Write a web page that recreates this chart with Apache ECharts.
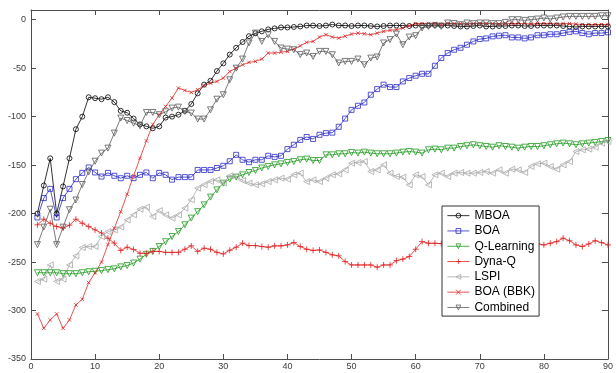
<!DOCTYPE html>
<html>
<head>
<meta charset="utf-8">
<script src="https://cdn.jsdelivr.net/npm/echarts@6/dist/echarts.min.js"></script>
<style>
  html, body { margin: 0; padding: 0; background: #ffffff; }
  #chart { width: 616px; height: 373px; }
</style>
</head>
<body>
<div id="chart"></div>
<script>
// Average reward per episode (episodes 1..90) for each learner
const mboa = [-200,-171,-143,-200,-172,-143,-113,-100,-80,-81,-82,-80,-85,-94,-96,-102,-108,-110,-112,-110,
  -101,-100,-98,-94,-87,-76,-67,-63,-53,-45,-36,-29,-23,-17,-14,-12,-10,-9,-8,-8,
  -7.5,-7,-6,-6,-6.5,-6,-5,-6,-6,-6.5,-6,-6,-6.5,-7,-6.5,-6,-6,-6,-6.5,-6,
  -6,-6,-5.5,-6,-6,-6.5,-7,-7,-6.5,-6,-7,-7,-6.5,-6.5,-6,-6,-6.5,-6.5,-6,-6,
  -6,-6,-6.5,-7,-7.5,-7,-7,-7,-7,-7];
const boa = [-204,-184,-174.5,-204,-184,-174.5,-164.5,-158,-152.4,-157.6,-161.8,-158,-161,-163.5,-161,-163.5,-160,-157.6,-163.5,-158,
  -160,-165,-162.4,-162.4,-162.4,-155,-155,-155,-153,-150.7,-146,-139.4,-144.5,-147,-144.5,-144.5,-140.4,-141.5,-140.4,-133.5,
  -129,-124,-121,-123,-118.7,-117,-116.5,-110.5,-102,-93,-88.8,-85.4,-77.4,-71.6,-67,-69.5,-69.5,-63.7,-60.2,-57.8,
  -55.8,-55.8,-47.5,-39.5,-34.4,-31,-29,-25.8,-22.4,-20,-19.3,-17.2,-16.5,-16,-18.3,-18.3,-19.3,-18.3,-16,-16,
  -15,-15,-13.8,-12.5,-12,-13.8,-15,-13.8,-13.8,-13];
const qLearning = [-261,-261,-261,-261,-262,-262,-262,-261,-260,-259.5,-258.8,-257.8,-257,-255,-253.6,-251,-247,-242,-239,-234,
  -229,-223.7,-218.5,-211.6,-204.7,-198,-191,-183,-175.5,-168.6,-164.5,-162.4,-160,-157.6,-155.5,-153,-151.4,-149.7,-148.7,-147.3,
  -146.3,-144.5,-143.8,-145.2,-145.2,-139.4,-139.4,-138.3,-138.3,-137,-137.6,-136.6,-137.6,-138.3,-138.3,-138.3,-137.6,-136.6,-136,-136.6,
  -137.6,-134.2,-133.5,-134.2,-132.5,-132.5,-130.8,-130,-129,-130,-130.8,-131.5,-130,-130.8,-131.5,-132.5,-131.5,-130.8,-130.8,-130,
  -129,-128,-127.3,-128,-129,-128,-127.3,-126.6,-125.6,-124.6];
const dynaQ = [-211.6,-205.8,-210,-213.4,-215,-212,-205.8,-210,-213.4,-216.8,-220,-225.4,-230.5,-238,-234.7,-237,-240.9,-241,-239,-239,
  -240,-240,-240,-236.8,-233.3,-239,-235.7,-236.8,-240,-241.6,-237.8,-234.7,-230.5,-233,-233,-234,-234.7,-233.3,-233.3,-232.3,
  -229.9,-234,-236.8,-238,-237.5,-240,-242.6,-243.6,-249.5,-253,-253,-253,-253,-255.3,-253,-253,-248.5,-247,-244.3,-236.8,
  -228.9,-230.6,-230.6,-231,-229,-232,-230,-228,-231,-233,-230,-229,-231,-232,-230,-229,-231,-231.3,-231.3,-232.3,
  -230.6,-228.9,-225.4,-228,-232.3,-234,-231.3,-228,-230,-232.3];
const lspi = [-270,-267.7,-253,-270,-267.7,-253,-243.6,-235,-234,-234,-223.7,-218.5,-216.8,-214,-206.5,-201.3,-195.5,-193.4,-203,-197,
  -201.3,-204.7,-201.3,-194.4,-185.8,-173.8,-170.3,-166.9,-165.2,-168.6,-161,-161.8,-165.9,-168.6,-170.3,-169.3,-167,-165.2,-163.5,-164.5,
  -160,-158.3,-167,-165.2,-167,-163.5,-160,-159,-154.9,-148,-147.3,-146.3,-156.6,-154.9,-149.7,-158.3,-161.8,-162.4,-170.3,-160,
  -161.8,-170.3,-160,-158.3,-161.8,-158.3,-157.6,-158.3,-158.3,-157.6,-156.6,-158.3,-154.9,-158.3,-154.2,-154.9,-157.6,-151.4,-148.7,-148,
  -151.4,-154.2,-149.7,-146.3,-136,-134.2,-133.5,-131.5,-127.3,-125.6];
const boaBBK = [-303.5,-318.3,-309.7,-303.5,-318.3,-309.7,-294.2,-288.4,-271.2,-261,-250,-232,-215,-198,-180,-161,-143,-125,-108,-98,
  -89.5,-80.8,-70.5,-73,-75,-72.3,-68,-65.4,-63.7,-60.2,-53.4,-50,-46.5,-44,-43,-40.6,-34.4,-34.4,-33.5,-32.7,
  -30.3,-27,-23.4,-22.4,-17.9,-15.5,-17.9,-18.9,-17,-14.8,-13.8,-14.5,-15.5,-13.8,-12,-11,-10.3,-8.6,-6.2,-4.1,
  -4,-4,-4,-4.5,-4,-4,-4,-4.5,-4,-4,-4,-4,-4.5,-4,-4,-4,-4,-4.5,-4,-4,
  -4,-4.5,-4,-4,-4.5,-5,-5,-5,-5,-5];
const combined = [-232,-214,-195.5,-232,-214,-196,-186,-170,-157,-146,-137.6,-132.5,-117,-101.5,-104,-106.7,-109.4,-95.7,-95.7,-98,
  -95,-91.2,-90.2,-94.6,-96.3,-102.5,-102.5,-93,-82,-77.4,-62,-50,-40.6,-24,-13.8,-22.4,-15.5,-22.4,-29.2,-30.3,
  -31,-36,-34.4,-37.9,-32.7,-32.7,-36.1,-44.7,-43,-43,-40.6,-46.5,-39.6,-38.5,-24,-20.6,-14.8,-25.8,-17.9,-16.5,
  -8.6,-6.9,-6.2,-6.9,-3.4,-4,-5.2,-3.4,-4.1,-3.4,-3.4,-4.1,-4.1,-2.8,0,0,-0.7,0,0.7,1.7,
  0.7,1.7,2.8,3.4,3.4,3.4,3.4,3.4,4.1,4.1];

const xTicks = [0, 10, 20, 30, 40, 50, 60, 70, 80, 90];
const yTicks = [-350, -300, -250, -200, -150, -100, -50, 0];

const PLUS = 'path://M0,5L10,5M5,0L5,10';
const CROSS = 'path://M0,0L10,10M0,10L10,0';

function pairs(arr) {
  return arr.map((v, i) => [i + 1, v]);
}

function makeSeries(name, values, color, symbol, size, rotate, lineColor) {
  return {
    name: name,
    type: 'line',
    data: pairs(values),
    symbol: symbol,
    symbolSize: size,
    symbolRotate: rotate,
    showAllSymbol: true,
    animation: false,
    color: color,
    lineStyle: { color: lineColor || color, width: 0.8 },
    itemStyle: { color: 'rgba(255,255,255,0)', borderColor: color, borderWidth: 0.8 },
    emphasis: { disabled: true }
  };
}

const chart = echarts.init(document.getElementById('chart'), null, { renderer: 'canvas' });

const axisColor = '#4d4d4d';
const labelColor = '#3a3a3a';

chart.setOption({
  backgroundColor: '#ffffff',
  animation: false,
  grid: { left: 31, right: -1, top: 10, bottom: 14, containLabel: false },
  xAxis: [
    {
      type: 'value', min: 0, max: 90, interval: 10, position: 'bottom',
      axisLine: { show: true, onZero: false, lineStyle: { color: axisColor, width: 1 } },
      axisTick: { show: true, inside: true, length: 5, lineStyle: { color: axisColor } },
      axisLabel: { color: labelColor, fontSize: 9, fontFamily: 'Liberation Sans, Arial, sans-serif', margin: 3,
        formatter: v => xTicks.includes(v) ? String(v) : '' },
      splitLine: { show: false }
    },
    {
      type: 'value', min: 0, max: 90, interval: 10, position: 'top',
      axisLine: { show: true, onZero: false, lineStyle: { color: axisColor, width: 1 } },
      axisTick: { show: true, inside: true, length: 5, lineStyle: { color: axisColor } },
      axisLabel: { show: false },
      splitLine: { show: false }
    }
  ],
  yAxis: [
    {
      type: 'value', min: -350, max: 10, interval: 50, position: 'left',
      axisLine: { show: true, onZero: false, lineStyle: { color: axisColor, width: 1 } },
      axisTick: { show: true, inside: true, length: 5, lineStyle: { color: axisColor } },
      axisLabel: { color: labelColor, fontSize: 9, fontFamily: 'Liberation Sans, Arial, sans-serif', margin: 5,
        formatter: v => yTicks.includes(v) ? String(v) : '' },
      splitLine: { show: false }
    },
    {
      type: 'value', min: -350, max: 10, interval: 50, position: 'right',
      axisLine: { show: true, onZero: false, lineStyle: { color: axisColor, width: 1 } },
      axisTick: { show: true, inside: true, length: 6, lineStyle: { color: axisColor } },
      axisLabel: { show: false },
      splitLine: { show: false }
    }
  ],
  legend: {
    orient: 'vertical',
    left: 442, top: 206,
    padding: [2, 4, 1, 5],
    itemWidth: 22, itemHeight: 6, itemGap: 0,
    backgroundColor: '#ffffff',
    borderColor: '#333333', borderWidth: 1, borderRadius: 0,
    lineStyle: { width: 0.8 },
    itemStyle: { borderWidth: 0.8 },
    textStyle: { color: '#000000', fontSize: 12, lineHeight: 15.3, fontFamily: 'Liberation Sans, Arial, sans-serif' },
    data: ['MBOA', 'BOA', 'Q-Learning', 'Dyna-Q', 'LSPI', 'BOA (BBK)', 'Combined']
  },
  series: [
    makeSeries('MBOA', mboa, '#000000', 'circle', 5, 0),
    makeSeries('BOA', boa, '#2b2bc8', 'rect', 5, 0),
    makeSeries('Q-Learning', qLearning, '#1f9a1f', 'triangle', 6, 180),
    makeSeries('Dyna-Q', dynaQ, '#e02020', PLUS, 6, 0),
    makeSeries('LSPI', lspi, '#a8a8a8', 'triangle', 6, 90),
    makeSeries('BOA (BBK)', boaBBK, '#e02828', CROSS, 3.5, 0),
    makeSeries('Combined', combined, '#5a5a5a', 'triangle', 6, 180)
  ]
});
</script>
</body>
</html>
